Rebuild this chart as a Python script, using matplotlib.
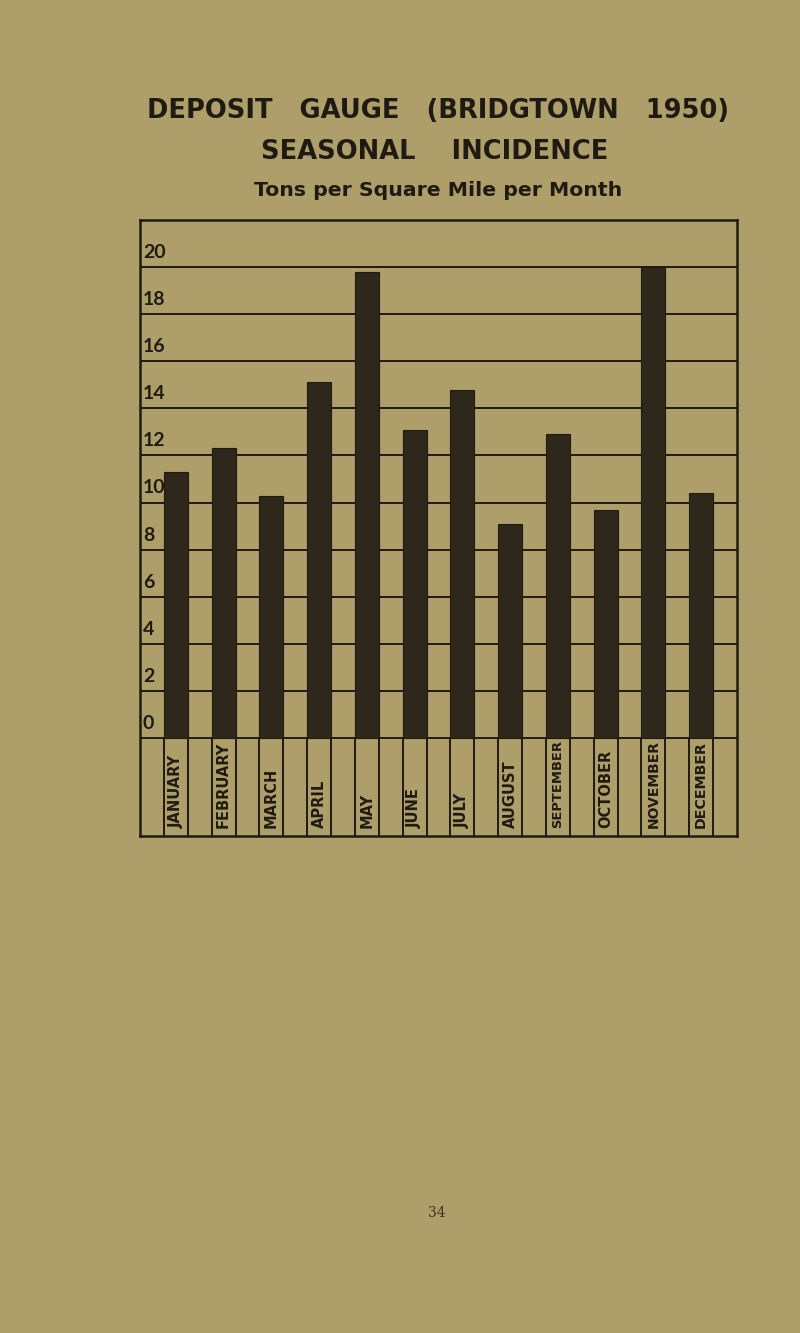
import matplotlib
matplotlib.use("Agg")
import matplotlib.pyplot as plt
from matplotlib.textpath import TextPath
from matplotlib.font_manager import FontProperties

# monthly deposit, tons per square mile per month
months = ["JANUARY", "FEBRUARY", "MARCH", "APRIL", "MAY", "JUNE",
          "JULY", "AUGUST", "SEPTEMBER", "OCTOBER", "NOVEMBER", "DECEMBER"]
deposit = [11.3, 12.3, 10.3, 15.1, 19.8, 13.1, 14.8, 9.1, 12.9, 9.7, 20.0, 10.4]
y_levels = [0, 2, 4, 6, 8, 10, 12, 14, 16, 18, 20]

paper = "#ad9e6a"
ink = "#1f1b13"
bar_col = "#2e281c"

plt.rcParams["font.family"] = ["DejaVu Sans"]

fig = plt.figure(figsize=(8, 13.33), dpi=100)
fig.patch.set_facecolor(paper)

# chart box: x 140..737 px, y 220..836 px
ax = fig.add_axes([140 / 800, (1333 - 836) / 1333, 597 / 800, 616 / 1333])
ax.set_facecolor(paper)
ybot = -4.16
ax.set_xlim(0, 25)
ax.set_ylim(ybot, 22)
ax.set_xticks([])
ax.set_yticks([])
for s in ax.spines.values():
    s.set_linewidth(1.8)
    s.set_color(ink)

# horizontal grid lines (the bars sit over them)
for v in y_levels:
    ax.axhline(v, color=ink, linewidth=1.4, zorder=1)
    ax.text(0.12, v + 0.62, str(v), ha="left", va="center",
            fontsize=14, fontweight="bold", color=ink, zorder=3,
            family="Lato")

# columns of the label strip under the chart
for k in range(1, 25):
    ax.plot([k, k], [ybot, 0], color=ink, linewidth=1.4, zorder=1)

xpos = [1.5 + 2 * i for i in range(len(months))]
ax.bar(xpos, deposit, width=1.0, color=bar_col, edgecolor=ink,
       linewidth=0.8, zorder=2)

# long month names are squeezed to fit the strip, as in the print
fp = FontProperties(family="DejaVu Sans", weight="bold")
for x, m in zip(xpos, months):
    w = TextPath((0, 0), m, size=10, prop=fp).get_extents().width * 100 / 72
    fs = min(10.5, 10 * 86 / w)
    ax.text(x, ybot + 0.35, m, rotation=90, ha="center", va="bottom",
            fontsize=fs, fontweight="bold", color=ink, zorder=3)

# headings
fig.text(438 / 800, 1 - 111 / 1333, "DEPOSIT   GAUGE   (BRIDGTOWN   1950)",
         ha="center", va="center", fontsize=18.5, fontweight="bold", color=ink)
fig.text(435 / 800, 1 - 152 / 1333, "SEASONAL    INCIDENCE",
         ha="center", va="center", fontsize=18.5, fontweight="bold", color=ink)
fig.text(438 / 800, 1 - 191 / 1333, "Tons per Square Mile per Month",
         ha="center", va="center", fontsize=14.7, fontweight="bold", color=ink)

# page number
fig.text(437 / 800, 1 - 1213 / 1333, "34", ha="center", va="center",
         fontsize=10, family="DejaVu Serif", color="#3b3528")

fig.savefig("out.png", dpi=100, facecolor=paper)
